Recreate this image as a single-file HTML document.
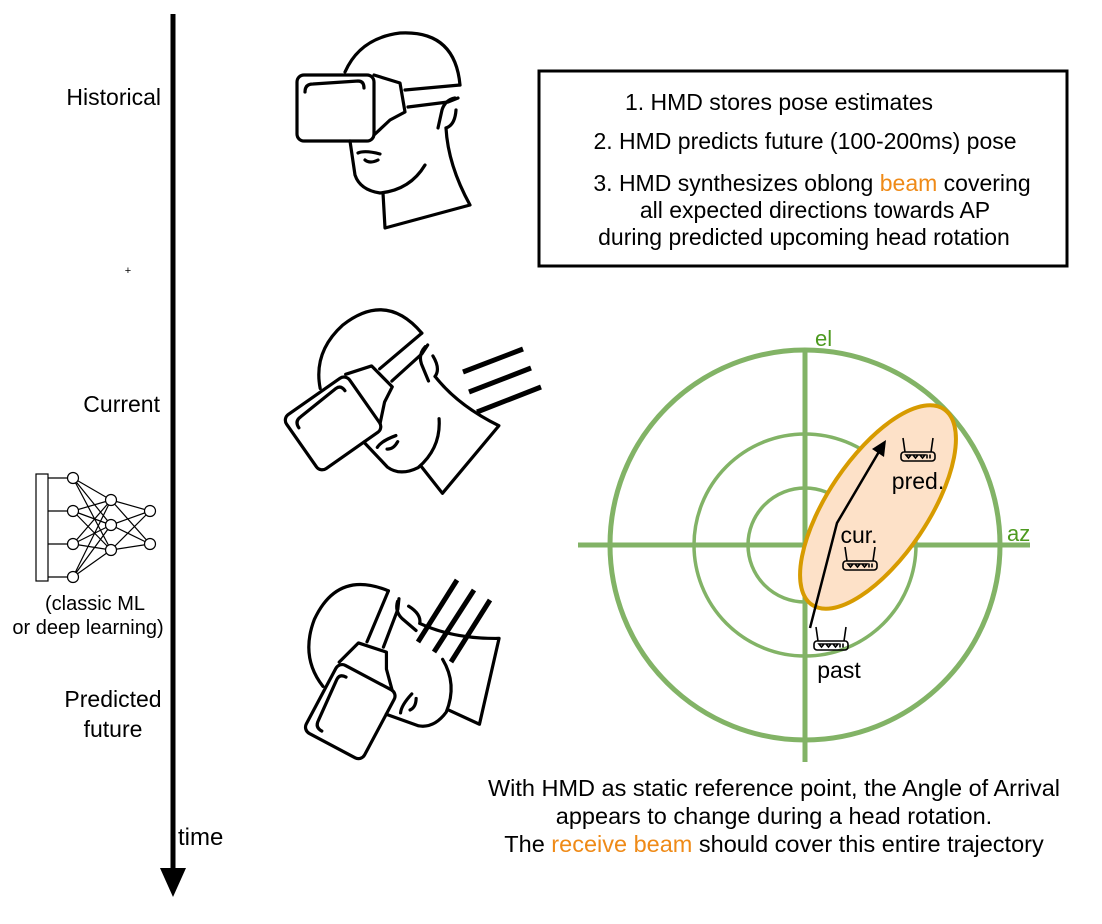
<!DOCTYPE html>
<html><head><meta charset="utf-8"><style>
body{margin:0;background:#fff;width:1102px;height:919px;overflow:hidden;font-family:"Liberation Sans",Arial,sans-serif}
svg text{font-family:"Liberation Sans",Arial,sans-serif}
</style></head><body>
<svg width="1102" height="919" viewBox="0 0 1102 919">
<defs>
<g id="head" fill="none" stroke="#000" stroke-width="3.2" stroke-linejoin="round" stroke-linecap="round">
  <rect x="297" y="75" width="77" height="66" rx="7"/>
  <path d="M305 92 Q305 84 313 84 L358 81 Q364 81 364 88"/>
  <path d="M374 75 L400 83 L405 112 L390 120 L374 135"/>
  <path d="M405 90 L460 85 M408 107 L448 102 L458 98"/>
  <path d="M345 72 Q360 38 400 33 Q455 30 460 85"/>
  <path d="M455 98 Q445 100 442 110 L438 128 M446 128 Q455 125 456 110"/>
  <path d="M446 128 Q448 165 470 205 L385 228 L383 193"/>
  <path d="M350 141 L355 175 Q360 190 380 193 Q410 190 425 165"/>
  <path d="M358 153 Q365 150 380 154 M365 160 Q370 164 378 160"/>
</g>
<g id="router" fill="none" stroke="#000" stroke-width="1.6">
  <rect x="-17" y="0" width="34" height="9" rx="3"/>
  <path d="M-13 0 L-15 -14 M13 0 L15 -14"/>
  <path d="M-12 3 h5 l-2.5 3z M-5 3 h5 l-2.5 3z M2 3 h5 l-2.5 3z M9 2.5 v4 M12 2.5 v4"/>
</g>
</defs>

<line x1="173" y1="14" x2="173" y2="875" stroke="#000" stroke-width="5"/>
<polygon points="160,868 186,868 173,897" fill="#000"/>
<text x="178" y="845" font-size="24">time</text>
<text x="161" y="105" font-size="23" text-anchor="end">Historical</text>
<text x="128" y="274" font-size="11" text-anchor="middle">+</text>
<text x="160" y="412" font-size="23" text-anchor="end">Current</text>
<text x="113" y="707" font-size="23" text-anchor="middle">Predicted</text>
<text x="113" y="737" font-size="23" text-anchor="middle">future</text>

<g stroke="#000" stroke-width="1.2" fill="none">
  <rect x="36" y="474" width="12" height="107" fill="#fff"/>
  <path d="M48 478 H68 M48 511 H68 M48 544 H68 M48 577 H68"/>
  <path d="M73 478 L111 500 M73 478 L111 525 M73 478 L111 550 M73 511 L111 500 M73 511 L111 525 M73 511 L111 550 M73 544 L111 500 M73 544 L111 525 M73 544 L111 550 M73 577 L111 500 M73 577 L111 525 M73 577 L111 550"/>
  <path d="M111 500 L150 511 M111 500 L150 544 M111 525 L150 511 M111 525 L150 544 M111 550 L150 511 M111 550 L150 544"/>
  <g fill="#fff">
    <circle cx="73" cy="478" r="5.5"/><circle cx="73" cy="511" r="5.5"/><circle cx="73" cy="544" r="5.5"/><circle cx="73" cy="577" r="5.5"/>
    <circle cx="111" cy="500" r="5.5"/><circle cx="111" cy="525" r="5.5"/><circle cx="111" cy="550" r="5.5"/>
    <circle cx="150" cy="511" r="5.5"/><circle cx="150" cy="544" r="5.5"/>
  </g>
</g>
<text x="95" y="610" font-size="20" text-anchor="middle">(classic ML</text>
<text x="88" y="634" font-size="20" text-anchor="middle">or deep learning)</text>

<use href="#head"/>
<use href="#head" transform="translate(5,285) rotate(-35 380 135)"/>
<use href="#head" transform="translate(15,550) rotate(-62 380 135)"/>
<g stroke="#000" stroke-width="5">
  <line x1="463" y1="372" x2="523" y2="349"/><line x1="469" y1="392" x2="531" y2="368"/><line x1="477" y1="412" x2="541" y2="387"/>
</g>
<g stroke="#000" stroke-width="5">
  <line x1="418" y1="642" x2="457" y2="580"/><line x1="434" y1="652" x2="474" y2="590"/><line x1="451" y1="662" x2="490" y2="600"/>
</g>

<rect x="539" y="71" width="528" height="195" fill="#fff" stroke="#000" stroke-width="3"/>
<g font-size="23" text-anchor="middle">
<text x="779" y="110">1. HMD stores pose estimates</text>
<text x="805" y="149">2. HMD predicts future (100-200ms) pose</text>
<text x="812" y="191">3. HMD synthesizes oblong <tspan fill="#ef8a17">beam</tspan> covering</text>
<text x="815" y="218">all expected directions towards AP</text>
<text x="804" y="245">during predicted upcoming head rotation</text>
</g>

<g fill="none" stroke="#82b366">
  <circle cx="805" cy="545" r="195" stroke-width="5"/>
  <circle cx="805" cy="545" r="111" stroke-width="3.5"/>
  <circle cx="805" cy="545" r="57" stroke-width="3.5"/>
  <line x1="805" y1="350" x2="805" y2="762" stroke-width="5"/>
  <line x1="578" y1="545" x2="1030" y2="545" stroke-width="5"/>
</g>
<text x="815" y="346" font-size="22" fill="#4d9a1f">el</text>
<text x="1007" y="541" font-size="22" fill="#4d9a1f">az</text>
<ellipse cx="878" cy="507" rx="118" ry="50" transform="rotate(-56 878 507)" fill="#fde1c8" stroke="#d79b00" stroke-width="4"/>
<path d="M810 628 L837 523 L880 450" fill="none" stroke="#000" stroke-width="2.5"/>
<polygon points="886,440 872,449 884,457" fill="#000"/>
<use href="#router" transform="translate(918,452)"/>
<use href="#router" transform="translate(860,561)"/>
<use href="#router" transform="translate(831,641)"/>
<g font-size="23" text-anchor="middle">
<text x="918" y="489">pred.</text>
<text x="859" y="543">cur.</text>
<text x="839" y="678">past</text>
</g>
<g font-size="23.5" text-anchor="middle">
<text x="774" y="796">With HMD as static reference point, the Angle of Arrival</text>
<text x="774" y="824">appears to change during a head rotation.</text>
<text x="774" y="852">The <tspan fill="#ef8a17">receive beam</tspan> should cover this entire trajectory</text>
</g>
</svg>
</body></html>
